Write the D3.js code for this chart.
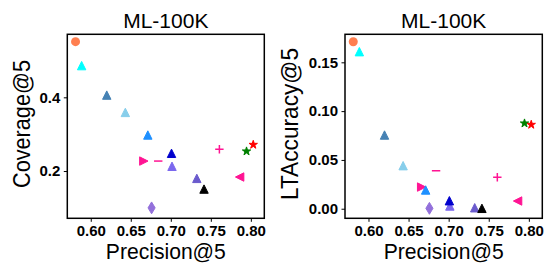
<!DOCTYPE html>
<html>
<head>
<meta charset="utf-8">
<script src="https://cdn.jsdelivr.net/npm/d3@7"></script>
<style>
  html, body { margin: 0; padding: 0; background: #fff; }
  svg { display: block; }
</style>
</head>
<body>
<svg id="chart" width="545" height="264"></svg>
<script>
// ---- data ----
const methods = ["m1","m2","m3","m4","m5","m6","m7","m8","m9","m10","m11","m12","m13","m14","m15","m16"];
const precision  = [0.581, 0.5886, 0.620, 0.6432, 0.6713, 0.7009, 0.7015, 0.7325, 0.7415, 0.6663, 0.6843, 0.676, 0.7607, 0.7946, 0.803, 0.786];
const coverage   = [0.551, 0.486, 0.406, 0.359, 0.2977, 0.248, 0.2128, 0.180, 0.151, 0.227, 0.227, 0.100, 0.259, 0.2535, 0.2714, 0.1837];
const ltaccuracy = [0.1711, 0.1609, 0.0755, 0.0441, 0.0192, 0.0082, 0.0028, 0.001, 0.0004, 0.0222, 0.0389, 0.0004, 0.0322, 0.0875, 0.0861, 0.0079];
const xTicks = [0.60, 0.65, 0.70, 0.75, 0.80];
const covTicks = [0.2, 0.4];
const ltaTicks = [0.00, 0.05, 0.10, 0.15];

// ---- styles ----
const markers = ["circle","tri_up","tri_up","tri_up","tri_up","tri_up","tri_up","tri_up","tri_up","tri_right","minus","thin_diamond","plus","star","star","tri_left"];
const colors  = ["#ff7f50","#00ffff","#4682b4","#87ceeb","#1e90ff","#0000cd","#7b68ee","#6a5acd","#000000","#ff1493","#ff1493","#9370db","#ff1493","#008000","#ff0000","#ff1493"];
const drawOrder = [0,1,2,3,9,10,12,15,11,4,6,5,7,8,13,14];

const S = 8.4; // marker size in px
function markerPath(type) {
  const h = S / 2;
  switch (type) {
    case "tri_up": return `M0,${-h}L${-h},${h}L${h},${h}Z`;
    case "tri_right": return `M${h},0L${-h},${-h}L${-h},${h}Z`;
    case "tri_left": return `M${-h},0L${h},${-h}L${h},${h}Z`;
    case "thin_diamond": { const dy = S * 0.707, dx = dy * 0.6; return `M0,${-dy}L${dx},0L0,${dy}L${-dx},0Z`; }
    case "plus": return `M${-h},0L${h},0M0,${-h}L0,${h}`;
    case "minus": return `M${-h},0L${h},0`;
    case "star": {
      const R = h * 1.05, r = R * 0.381966; let p = "";
      for (let i = 0; i < 10; i++) {
        const rad = i % 2 === 0 ? R : r;
        const a = -Math.PI / 2 + i * Math.PI / 5;
        p += (i === 0 ? "M" : "L") + (rad * Math.cos(a)).toFixed(2) + "," + (rad * Math.sin(a)).toFixed(2);
      }
      return p + "Z";
    }
    default: return null;
  }
}

const svg = d3.select("#chart");
svg.append("rect").attr("width", 545).attr("height", 264).attr("fill", "#fff");

function panel(opts) {
  const g = svg.append("g");
  const x = d3.scaleLinear().domain([0.5707, 0.8168]).range([opts.x0, opts.x1]);
  const y = d3.scaleLinear().domain(opts.yDomain).range([218.3, 34.3]);

  const xAxis = g.append("g").attr("transform", "translate(0,218.3)")
    .call(d3.axisBottom(x).tickValues(xTicks).tickFormat(d3.format(".2f")).tickSize(3.5).tickPadding(3.5).tickSizeOuter(0));
  const yAxis = g.append("g").attr("transform", `translate(${opts.x0},0)`)
    .call(d3.axisLeft(y).tickValues(opts.yTicks).tickFormat(d3.format(opts.yFmt)).tickSize(3.5).tickPadding(3.5).tickSizeOuter(0));
  [xAxis, yAxis].forEach(a => {
    a.select(".domain").remove();
    a.selectAll("line").attr("stroke", "#000").attr("stroke-width", 1);
    a.selectAll("text").attr("fill", "#000").style("font-family", "'Liberation Sans', Arial, sans-serif")
      .style("font-weight", "bold").style("font-size", "15px");
  });

  // points
  const pts = g.append("g");
  opts.order.forEach(i => {
    const t = markers[i];
    const cx = x(precision[i]), cy = y(opts.values[i]);
    if (t === "circle") {
      pts.append("circle").attr("cx", cx).attr("cy", cy).attr("r", S / 2 + 0.3).attr("fill", colors[i]);
    } else if (t === "plus" || t === "minus") {
      pts.append("path").attr("d", markerPath(t)).attr("transform", `translate(${cx},${cy})`)
        .attr("fill", "none").attr("stroke", colors[i]).attr("stroke-width", 1.5);
    } else {
      pts.append("path").attr("d", markerPath(t)).attr("transform", `translate(${cx},${cy})`)
        .attr("fill", colors[i]).attr("stroke", colors[i]).attr("stroke-width", 1).attr("stroke-linejoin", "miter");
    }
  });

  // frame
  g.append("rect").attr("x", opts.x0).attr("y", 34.3).attr("width", opts.x1 - opts.x0).attr("height", 184)
    .attr("fill", "none").attr("stroke", "#000").attr("stroke-width", 1.5);

  const cxm = (opts.x0 + opts.x1) / 2;
  g.append("text").attr("x", cxm).attr("y", 28).attr("text-anchor", "middle")
    .style("font-family", "'Liberation Sans', Arial, sans-serif").style("font-size", "21px").text("ML-100K");
  g.append("text").attr("x", cxm).attr("y", 259).attr("text-anchor", "middle")
    .attr("textLength", 120).attr("lengthAdjust", "spacingAndGlyphs")
    .style("font-family", "'Liberation Sans', Arial, sans-serif").style("font-size", "22px").text("Precision@5");
  g.append("text").attr("transform", `translate(${opts.ylx},124) rotate(-90)`).attr("text-anchor", "middle")
    .attr("textLength", opts.ylw).attr("lengthAdjust", "spacingAndGlyphs")
    .style("font-family", "'Liberation Sans', Arial, sans-serif").style("font-size", "24px").text(opts.ylabel);
}

panel({ x0: 67.3, x1: 264.3, yDomain: [0.0717, 0.571], yTicks: covTicks, yFmt: ".1f",
        values: coverage, order: drawOrder, ylabel: "Coverage@5", ylx: 30, ylw: 128 });
panel({ x0: 345, x1: 542.3, yDomain: [-0.0098, 0.1787], yTicks: ltaTicks, yFmt: ".2f",
        values: ltaccuracy, order: drawOrder, ylabel: "LTAccuracy@5", ylx: 298, ylw: 152 });
</script>
</body>
</html>
